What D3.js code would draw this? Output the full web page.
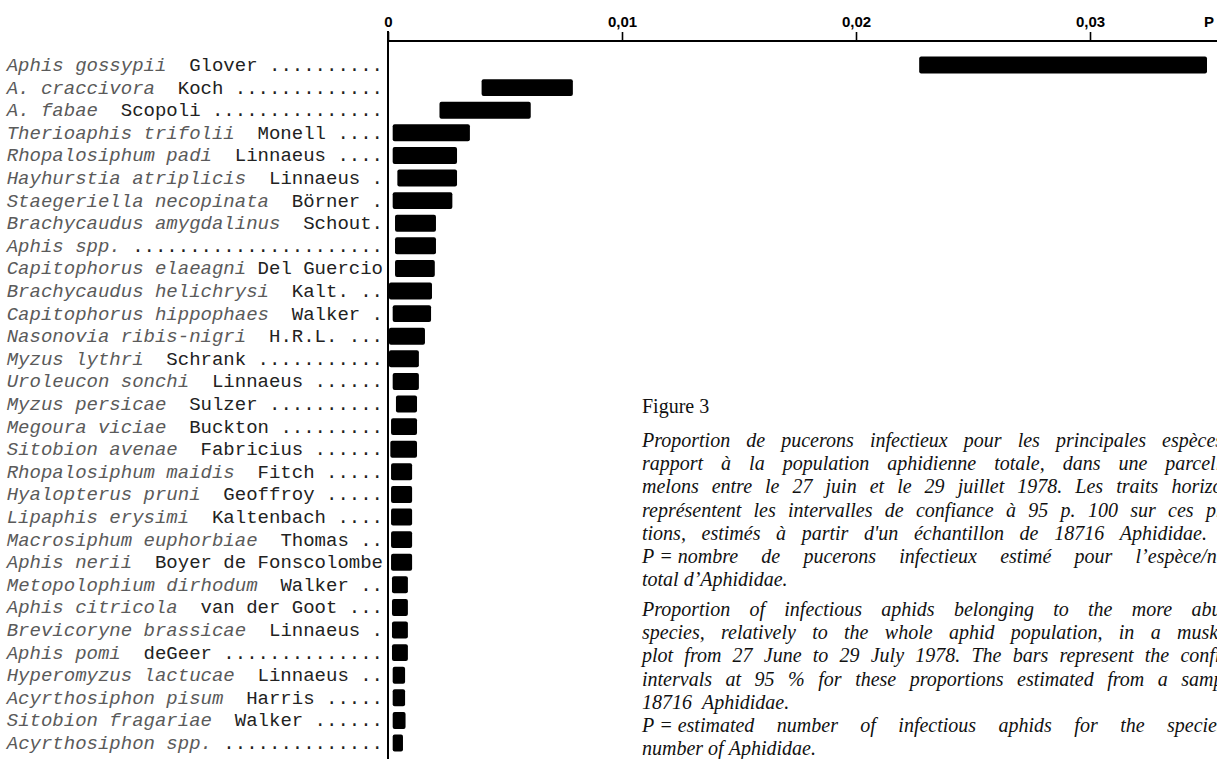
<!DOCTYPE html>
<html><head><meta charset="utf-8">
<script src="https://cdn.jsdelivr.net/npm/d3@7"></script>
<style>body{margin:0;background:#fff;overflow:hidden}</style>
</head><body><svg id="c" width="1217" height="759"></svg>
<script>
// ---------- data ----------
const species = ["Aphis gossypii","A. craccivora","A. fabae","Therioaphis trifolii","Rhopalosiphum padi","Hayhurstia atriplicis","Staegeriella necopinata","Brachycaudus amygdalinus","Aphis spp.","Capitophorus elaeagni","Brachycaudus helichrysi","Capitophorus hippophaes","Nasonovia ribis-nigri","Myzus lythri","Uroleucon sonchi","Myzus persicae","Megoura viciae","Sitobion avenae","Rhopalosiphum maidis","Hyalopterus pruni","Lipaphis erysimi","Macrosiphum euphorbiae","Aphis nerii","Metopolophium dirhodum","Aphis citricola","Brevicoryne brassicae","Aphis pomi","Hyperomyzus lactucae","Acyrthosiphon pisum","Sitobion fragariae","Acyrthosiphon spp."];
const authors = ["Glover","Koch","Scopoli","Monell","Linnaeus","Linnaeus","Börner","Schout.","","Del Guercio","Kalt.","Walker","H.R.L.","Schrank","Linnaeus","Sulzer","Buckton","Fabricius","Fitch","Geoffroy","Kaltenbach","Thomas","Boyer de Fonscolombe","Walker","van der Goot","Linnaeus","deGeer","Linnaeus","Harris","Walker",""];
const lowValues  = [0.0227,0.0040,0.0022,0.0002,0.0002,0.0004,0.0002,0.0003,0.0003,0.0003,0.00004,0.0002,0.00004,0.00004,0.0002,0.00034,0.00013,0.0001,0.00013,0.00013,0.00013,0.00013,0.00013,0.00017,0.00017,0.00017,0.00017,0.0002,0.0002,0.0002,0.0002];
const highValues = [0.0350,0.0079,0.0061,0.0035,0.00295,0.00295,0.00275,0.00205,0.00205,0.0020,0.00188,0.00184,0.00158,0.00132,0.00132,0.00124,0.00124,0.00124,0.00103,0.00103,0.00103,0.00103,0.00103,0.00085,0.00085,0.00085,0.00085,0.00073,0.00073,0.00075,0.00064];
const tickValues = [0, 0.01, 0.02, 0.03];
const tickLabels = ["0","0,01","0,02","0,03"];
const axisTitle = "P";
const captionTitle = "Figure 3";
const captionFr = [
 "Proportion de pucerons infectieux pour les principales espèces par",
 "rapport à la population aphidienne totale, dans une parcelle de",
 "melons entre le 27 juin et le 29 juillet 1978. Les traits horizontaux",
 "représentent les intervalles de confiance à 95 p. 100 sur ces propor-",
 "tions, estimés à partir d'un échantillon de 18716 Aphididae.",
 "P\u00a0=\u00a0nombre de pucerons infectieux estimé pour l’espèce/nombre",
 "total d’Aphididae."];
const captionEn = [
 "Proportion of infectious aphids belonging to the more abundant",
 "species, relatively to the whole aphid population, in a muskmelon",
 "plot from 27 June to 29 July 1978. The bars represent the confidence",
 "intervals at 95 % for these proportions estimated from a sample of",
 "18716\u00a0\u00a0Aphididae.",
 "P\u00a0=\u00a0estimated number of infectious aphids for the species/total",
 "number of Aphididae."];

// ---------- layout ----------
const svg = d3.select("#c");
const x0 = 388, axisY = 41;
const x = d3.scaleLinear().domain([0, 0.01]).range([x0, 622]);
const y = d3.scaleBand().domain(d3.range(species.length))
  .range([53.7, 53.7 + 22.6*species.length]).paddingInner(0.25).paddingOuter(0.125);

// bars
svg.append("g").selectAll("rect").data(species).join("rect")
  .attr("x", (d,i)=>x(lowValues[i]))
  .attr("width", (d,i)=>x(highValues[i]) - x(lowValues[i]))
  .attr("y", (d,i)=>y(i)).attr("height", y.bandwidth())
  .attr("rx", 2).attr("fill", "#000");

// axis
const axis = d3.axisTop(x).tickValues(tickValues)
  .tickFormat((d,i)=>tickLabels[i]).tickSize(9).tickSizeOuter(0);
const ag = svg.append("g").attr("transform", `translate(0,${axisY})`).call(axis);
ag.select(".domain").remove();
ag.selectAll(".tick line").attr("stroke", "#000").attr("stroke-width", 1.6);
ag.selectAll(".tick text").attr("y", -14).attr("fill", "#000")
  .style("font-family", "'Liberation Sans Narrow','Liberation Sans',Arial,sans-serif")
  .style("font-weight", "bold").style("font-size", "15px");
svg.append("line").attr("x1", x0).attr("x2", 1217).attr("y1", axisY).attr("y2", axisY)
  .attr("stroke", "#000").attr("stroke-width", 2);
svg.append("line").attr("x1", x0).attr("x2", x0).attr("y1", 31).attr("y2", 759)
  .attr("stroke", "#000").attr("stroke-width", 2);
svg.append("text").attr("x", 1204).attr("y", 27).text(axisTitle)
  .style("font-family", "'Liberation Sans Narrow','Liberation Sans',Arial,sans-serif")
  .style("font-weight", "bold").style("font-size", "15px");

// labels
const lab = svg.append("g").style("font-family", "'Liberation Mono','DejaVu Sans Mono',monospace")
  .style("font-size", "19px");
species.forEach((sp, i) => {
  let sep = "  ";
  if (sp.length + 2 + authors[i].length > 33) sep = " ";
  let rest = authors[i] ? sep + authors[i] : "";
  let pad = 33 - (sp.length + rest.length);
  let dots = pad >= 2 ? " " + ".".repeat(pad - 1) : (pad === 1 ? " " : "");
  const t = lab.append("text").attr("x", 383).attr("y", y(i) + y.bandwidth()/2 + 6)
    .attr("text-anchor", "end").attr("xml:space", "preserve");
  t.append("tspan").text(sp).style("font-style", "italic").attr("fill", "#5a5a5a");
  t.append("tspan").text(rest + dots).attr("fill", "#222");
});

// caption
const cap = svg.append("g").style("font-family", "'Liberation Serif','Times New Roman',serif")
  .style("font-size", "20px").attr("fill", "#111");
const cx = 642, colEnd = 1267;
cap.append("text").attr("x", cx).attr("y", 413).text(captionTitle);
const meas = cap.append("text").style("font-style", "italic").attr("x", -1000).attr("y", -100);
function w(s){ meas.text(s); return meas.node().getComputedTextLength(); }
function drawLine(str, yy, endX, justify){
  const words = str.split(" ");
  const ws = words.map(w);
  const sp = w("a a") - w("aa");
  const total = d3.sum(ws);
  const gap = justify && words.length > 1 ? (endX - cx - total)/(words.length - 1) : sp;
  const t = cap.append("text").attr("y", yy).style("font-style", "italic");
  let xx = cx;
  words.forEach((wd, k) => {
    t.append("tspan").attr("x", xx).text(wd);
    xx += ws[k] + gap;
  });
}
const lh = 23.2;
captionFr.forEach((s, k) => {
  const last = k === captionFr.length - 1;
  const endX = k === 4 ? 1207 : colEnd;
  drawLine(s, 447 + k*lh, endX, !last);
});
captionEn.forEach((s, k) => {
  const noJ = k === 4 || k === captionEn.length - 1;
  drawLine(s, 616 + k*lh, colEnd, !noJ);
});
meas.remove();
</script></body></html>
